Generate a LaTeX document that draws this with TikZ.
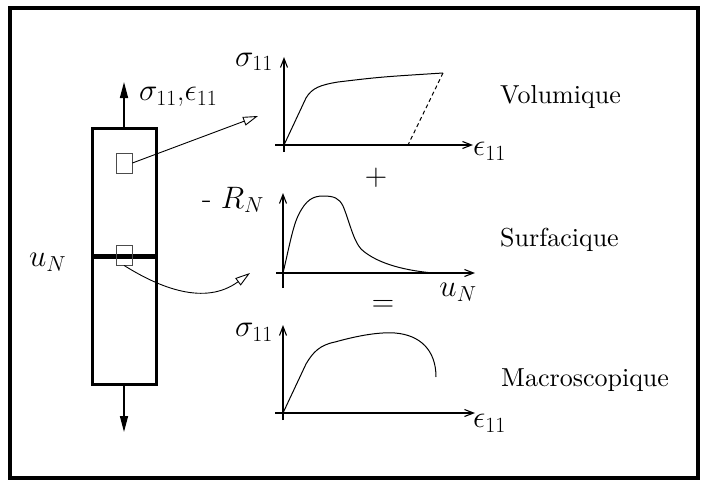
\RequirePackage{fix-cm}
\documentclass[tikz,border=0pt]{standalone}
\usetikzlibrary{arrows.meta}
\newcommand{\bigtext}[1]{\scalebox{2.6}{\fontsize{10}{12}\selectfont #1}}
\begin{document}
\begin{tikzpicture}[x=1pt,y=-1pt,
  every node/.style={inner sep=0pt},
  mlabel/.style={font=\fontsize{31}{36}\selectfont},
  frame/.style={line width=3.5pt},
  bar/.style={line width=3pt},
  band/.style={line width=5.5pt},
  cell/.style={draw=black!70, line width=0.8pt, minimum width=16pt, minimum height=20pt},
  axis/.style={line width=1.1pt, -{Straight Barb[length=9pt,width=7pt]}},
  curve/.style={line width=1pt},
  load/.style={line width=1.5pt, -{Triangle[length=16pt,width=8pt]}},
  link/.style={line width=0.9pt, -{Triangle[open,length=15pt,width=9pt,line width=0.9pt]}}
]
\useasboundingbox (0,0) rectangle (709,487);
\draw[frame] (10,8) rectangle (698,478);
% bar
\draw[bar] (92,128) rectangle (156,384);
\draw[band] (92,256.5) -- (156,256.5);
\coordinate (bartop) at (124,128);
\coordinate (barbot) at (124,384);
\coordinate (uptip) at (124,82);
\coordinate (dntip) at (124,432);
\draw[load] (bartop) -- (uptip);
\draw[load] (barbot) -- (dntip);
\node[cell] (sq1) at (124,163) {};
\node[cell] (sq2) at (124,255) {};
\node[mlabel, anchor=west] (lsig) at (139,97) {$\sigma_{11}$,$\epsilon_{11}$};
\node[mlabel, anchor=west] (lun) at (29,262) {$u_N$};
% connectors
\coordinate (t1) at (258,116);
\coordinate (t2) at (250,273);
\draw[link] (sq1.east) -- (t1);
\draw[link] (sq2.south) .. controls (160,288) and (205,306) .. (t2);
% graph 1
\coordinate (o1) at (284,145);
\coordinate (y1a) at (284,152);
\coordinate (y1b) at (284,57);
\coordinate (x1a) at (275,145);
\coordinate (x1b) at (473,145);
\draw[axis] (y1a) -- (y1b);
\draw[axis] (x1a) -- (x1b);
\draw[curve] (o1) -- (306,98) .. controls (312,88) and (320,85) .. (338,82) .. controls (380,77) .. (443,73);
\draw[curve, dashed, dash pattern=on 4pt off 3pt] (443,73) -- (408,145);
\node[mlabel] (s1) at (254,62) {$\sigma_{11}$};
\node[mlabel, anchor=west] (e1) at (473,151) {$\epsilon_{11}$};
\node[mlabel] (plus) at (376,178) {$+$};
% graph 2
\coordinate (o2) at (283,273);
\coordinate (y2a) at (283,288);
\coordinate (y2b) at (283,193);
\coordinate (x2a) at (276,273);
\coordinate (x2b) at (475,273);
\draw[axis] (y2a) -- (y2b);
\draw[axis] (x2a) -- (x2b);
\draw[curve] (o2) .. controls (289,248) and (293,225) .. (299,214) .. controls (306,200) and (313,196) .. (323,196) .. controls (334,196) and (339,198) .. (343,206) .. controls (349,220) and (353,240) .. (361,249) .. controls (375,262) and (400,270) .. (433,273);
\node[mlabel] (rn) at (233,200) {- $R_N$};
\node[mlabel] (un) at (458,292) {$u_N$};
\node[mlabel] (eq) at (383,306) {$=$};
% graph 3
\coordinate (o3) at (283,413);
\coordinate (y3a) at (283,420);
\coordinate (y3b) at (283,325);
\coordinate (x3a) at (275,413);
\coordinate (x3b) at (475,413);
\draw[axis] (y3a) -- (y3b);
\draw[axis] (x3a) -- (x3b);
\draw[curve] (o3) -- (306,364) .. controls (313,352) and (320,345) .. (335,342) .. controls (360,335) and (380,332) .. (395,333) .. controls (420,335) and (436,350) .. (436,377);
\node[mlabel] (s3) at (254,332) {$\sigma_{11}$};
\node[mlabel, anchor=west] (e3) at (473,423) {$\epsilon_{11}$};
% texts
\node[anchor=west] (vol) at (500,97) {\bigtext{Volumique}};
\node[anchor=west] (sur) at (500,240) {\bigtext{Surfacique}};
\node[anchor=west] (mac) at (501,380) {\bigtext{Macroscopique}};
\end{tikzpicture}
\end{document}
